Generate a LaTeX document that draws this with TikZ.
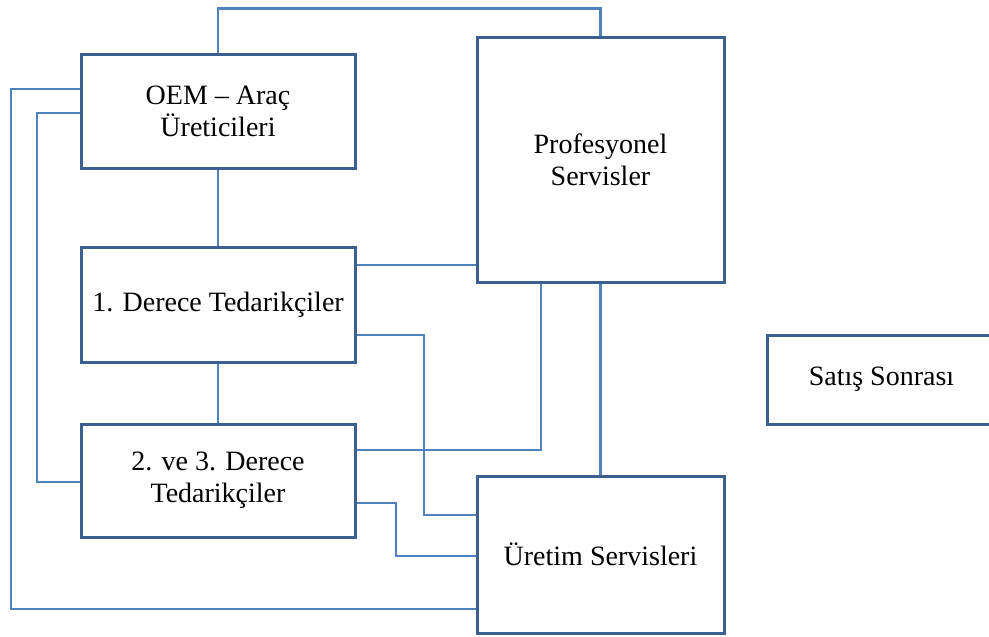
\documentclass[tikz,border=0pt]{standalone}
\usepackage{fontspec}
\setmainfont{Liberation Serif}
\definecolor{boxblue}{HTML}{3B5F8E}
\definecolor{linkblue}{HTML}{4F81BD}
\begin{document}
\begin{tikzpicture}[x=1pt,y=-1pt,
  box/.style={draw=boxblue, line width=3pt, fill=white, align=center,
    inner sep=0pt, font=\fontsize{28}{32}\selectfont},
  link/.style={draw=linkblue, line width=2.5pt}]
\clip (0,0) rectangle (989,637);
% boxes
\node[box, minimum width=274pt, minimum height=114pt] (oem)   at (218,111)   {OEM -- Araç\\Üreticileri};
\node[box, minimum width=274pt, minimum height=115pt] (sup1)  at (218,304.5) {1. Derece Tedarikçiler};
\node[box, minimum width=274pt, minimum height=113pt] (sup23) at (218,480.5) {2. ve 3. Derece\\Tedarikçiler};
\node[box, minimum width=247pt, minimum height=245pt] (prof)  at (600.5,159.5) {Profesyonel\\Servisler};
\node[box, minimum width=247pt, minimum height=157pt] (uret)  at (600.5,554.5) {Üretim Servisleri};
\node[box, minimum width=229pt, minimum height=89pt]  (satis) at (881.5,379.5) {Satış Sonrası};
% connectors
\draw[link] (oem.north) -- ++(0,-44) -| (prof.north);
\draw[link] (oem.west |- 0,89) -| (11,609) -- (uret.west |- 0,609);
\draw[link] (oem.west |- 0,113) -| (37,482) -- (sup23.west |- 0,482);
\draw[link] (oem.south) -- (sup1.north);
\draw[link] (sup1.south) -- (sup23.north);
\draw[link] (sup1.east |- 0,265) -- (prof.west |- 0,265);
\draw[link] (sup1.east |- 0,335) -| (424,515) -- (uret.west |- 0,515);
\draw[link] (sup23.east |- 0,450) -| (prof.south -| 541,0);
\draw[link] (sup23.east |- 0,503) -| (396,556) -- (uret.west |- 0,556);
\draw[link] (prof.south) -- (uret.north);
\end{tikzpicture}
\end{document}
